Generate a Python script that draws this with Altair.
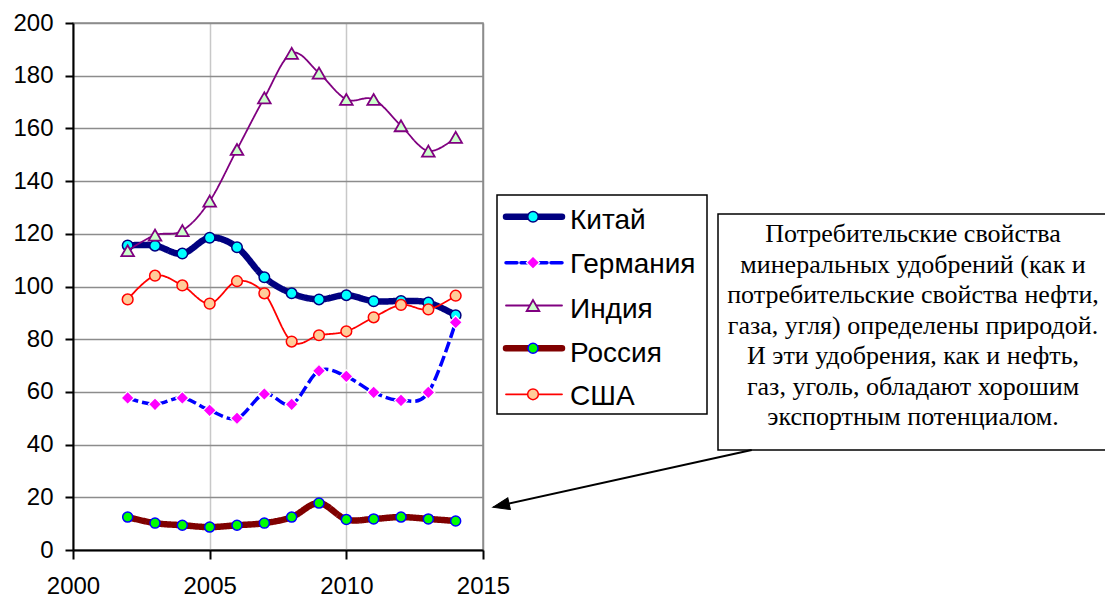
import altair as alt
import pandas as pd

# Годы и значения по странам
years = [2002, 2003, 2004, 2005, 2006, 2007, 2008, 2009, 2010, 2011, 2012, 2013, 2014]
china = [115.6, 115.5, 112.5, 118.5, 114.9, 103.5, 97.4, 95.1, 96.7, 94.4, 94.5, 93.9, 89.1]
germany = [57.7, 55.3, 57.7, 53.0, 50.0, 59.2, 55.3, 68.0, 65.9, 59.8, 56.8, 59.8, 86.4]
india = [113.6, 119.5, 121.2, 132.4, 152.0, 171.6, 188.5, 181.0, 171.0, 171.0, 161.0, 151.4, 156.6]
russia = [12.5, 10.2, 9.4, 8.7, 9.4, 10.2, 12.5, 17.8, 11.6, 11.8, 12.5, 11.8, 11.0]
usa = [95.1, 104.1, 100.4, 93.5, 102.0, 97.4, 79.1, 81.5, 83.0, 88.3, 93.0, 91.3, 96.5]

series_names = ["Китай", "Германия", "Индия", "Россия", "США"]
series_values = [china, germany, india, russia, usa]

x_ticks = [2000, 2005, 2010, 2015]
y_ticks = [0, 20, 40, 60, 80, 100, 120, 140, 160, 180, 200]

note_lines = [
    "Потребительские свойства",
    "минеральных удобрений (как и",
    "потребительские свойства нефти,",
    "газа, угля) определены природой.",
    "И эти удобрения, как и нефть,",
    "газ, уголь, обладают хорошим",
    "экспортным потенциалом.",
]

SANS = "Arial, 'Liberation Sans', sans-serif"
SERIF = "'Liberation Serif', 'Times New Roman', serif"

# Оформление линий и маркеров
styles = {
    "Китай": dict(color="#000080", width=6.5, dash=[1, 0], shape="circle", size=110,
                  fill="#00ffff", stroke="#000080", sw=1.5),
    "Германия": dict(color="#0000ff", width=3.5, dash=[11, 4], shape="diamond", size=170,
                     fill="#ff00ff", stroke="#ffffff", sw=1.2),
    "Индия": dict(color="#800080", width=1.8, dash=[1, 0], shape="triangle-up", size=160,
                  fill="#ccffcc", stroke="#800080", sw=1.8),
    "Россия": dict(color="#800000", width=6.5, dash=[1, 0], shape="circle", size=100,
                   fill="#00ff00", stroke="#0000ff", sw=1.5),
    "США": dict(color="#ff0000", width=1.8, dash=[1, 0], shape="circle", size=115,
                fill="#ffcc99", stroke="#ff0000", sw=1.5),
}

LEFT, TOP, W, H = 73, 23, 410, 527

x_enc = alt.X(
    "year:Q",
    scale=alt.Scale(domain=[2000, 2015], nice=False, zero=False),
    axis=alt.Axis(
        values=x_ticks, format="d", title=None, tickSize=9, labelPadding=15,
        labelFlush=False,
        gridColor={"condition": {"test": "datum.value === 2015", "value": "#8c8c8c"},
                   "value": "#c8c8c8"},
    ),
)
y_enc = alt.Y(
    "value:Q",
    scale=alt.Scale(domain=[0, 200], nice=False),
    axis=alt.Axis(values=y_ticks, title=None, tickSize=8, labelPadding=12,
                  gridColor="#8c8c8c"),
)

one = pd.DataFrame({"i": [0]})

layers = []

# Рамка легенды и рамка с текстом
layers.append(
    alt.Chart(one).mark_rect(fill="white", stroke="black", strokeWidth=1.5).encode(
        x=alt.value(497 - LEFT), x2=alt.value(707 - LEFT),
        y=alt.value(195 - TOP), y2=alt.value(414 - TOP),
    )
)
layers.append(
    alt.Chart(one).mark_rect(fill="white", stroke="black", strokeWidth=1.5).encode(
        x=alt.value(718 - LEFT), x2=alt.value(1110 - LEFT),
        y=alt.value(214 - TOP), y2=alt.value(450 - TOP),
    )
)

# Линии и маркеры рядов
for name, vals in zip(series_names, series_values):
    st = styles[name]
    df = pd.DataFrame({"year": years, "value": vals})
    base = alt.Chart(df).encode(x=x_enc, y=y_enc)
    layers.append(
        base.mark_line(color=st["color"], strokeWidth=st["width"], strokeDash=st["dash"],
                       interpolate="cardinal")
    )
    layers.append(
        base.mark_point(shape=st["shape"], size=st["size"], filled=True, fill=st["fill"],
                        stroke=st["stroke"], strokeWidth=st["sw"], opacity=1, fillOpacity=1)
    )

# Легенда
row_y = [216.7, 262.7, 305.5, 348.3, 394.3]
text_y = [229.3, 273.3, 318.3, 361.7, 405.0]
for name, ly, ty in zip(series_names, row_y, text_y):
    st = styles[name]
    layers.append(
        alt.Chart(one).mark_rule(color=st["color"], strokeWidth=st["width"],
                                 strokeDash=st["dash"], strokeCap="round").encode(
            x=alt.value(506 - LEFT), x2=alt.value(562 - LEFT), y=alt.value(ly - TOP)
        )
    )
    layers.append(
        alt.Chart(one).mark_point(shape=st["shape"], size=st["size"], filled=True,
                                  fill=st["fill"], stroke=st["stroke"], strokeWidth=st["sw"],
                                  opacity=1, fillOpacity=1).encode(
            x=alt.value(533 - LEFT), y=alt.value(ly - TOP)
        )
    )
    layers.append(
        alt.Chart(one).mark_text(align="left", baseline="alphabetic", font=SANS,
                                 fontSize=28, color="black", text=name).encode(
            x=alt.value(570 - LEFT), y=alt.value(ty - TOP)
        )
    )

# Текст пояснения
layers.append(
    alt.Chart(one).mark_text(align="center", baseline="alphabetic", font=SERIF,
                             fontSize=26, lineHeight=30.5, color="black",
                             text=note_lines).encode(
        x=alt.value(913 - LEFT), y=alt.value(242 - TOP)
    )
)

# Стрелка от пояснения к ряду России
layers.append(
    alt.Chart(one).mark_rule(color="black", strokeWidth=2).encode(
        x=alt.value(751.7 - LEFT), y=alt.value(450 - TOP),
        x2=alt.value(500 - LEFT), y2=alt.value(505.5 - TOP),
    )
)
layers.append(
    alt.Chart(one).mark_point(shape="M0,0L1.4,-0.5L1.4,0.5Z", size=576, filled=True,
                              fill="black", stroke="black", strokeWidth=1, opacity=1,
                              angle=347.5).encode(
        x=alt.value(492.7 - LEFT), y=alt.value(507.3 - TOP)
    )
)

chart = alt.layer(*layers).properties(
    width=W, height=H,
    autosize=alt.AutoSizeParams(type="none"),
    padding={"left": LEFT, "top": TOP, "right": 1105 - LEFT - W, "bottom": 598 - TOP - H},
    background="white",
).configure_view(
    stroke="#8c8c8c", strokeWidth=1.5
).configure_axis(
    labelFont=SANS, labelFontSize=24, labelColor="black",
    domainColor="black", domainWidth=2, tickColor="black", tickWidth=2,
    gridWidth=1.5,
)

chart.save("out.html", embed_options={"renderer": "svg", "actions": False})
